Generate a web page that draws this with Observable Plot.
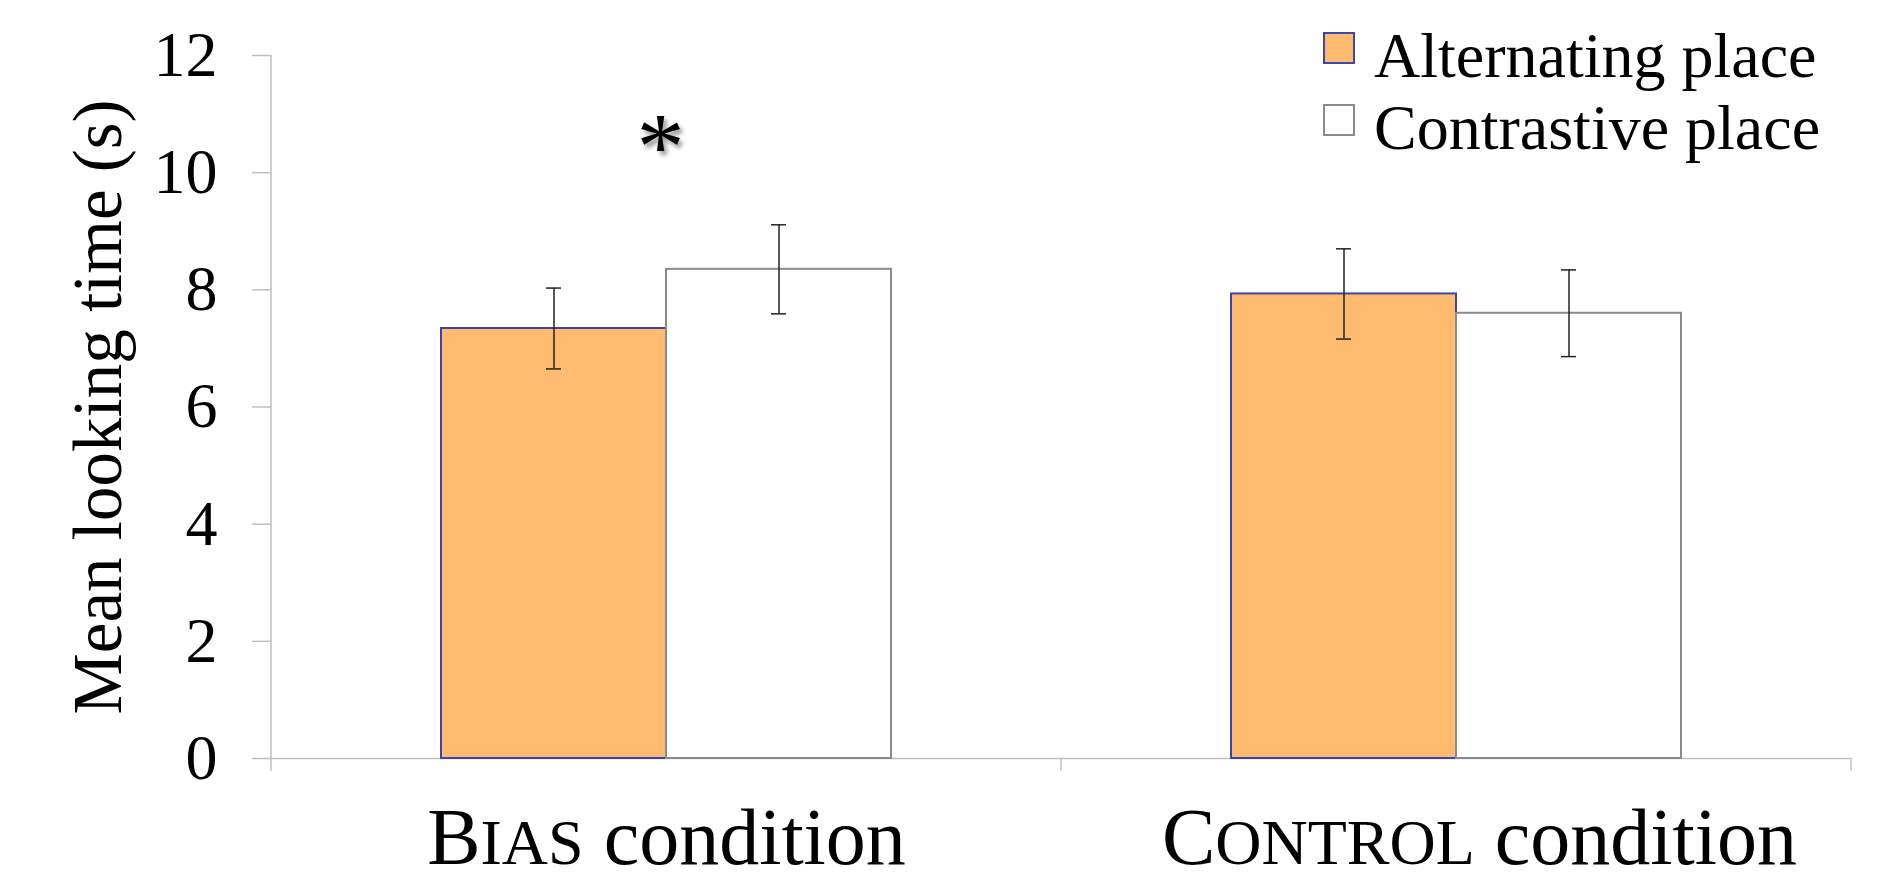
<!DOCTYPE html>
<html><head><meta charset="utf-8">
<script src="https://cdn.jsdelivr.net/npm/d3@7"></script>
<script src="https://cdn.jsdelivr.net/npm/@observablehq/plot@0.6"></script>
<style>
html,body{margin:0;padding:0;background:#fff;}
#wrap{position:relative;width:1890px;height:882px;font-family:"Liberation Serif","Times New Roman",serif;}
.legend{position:absolute;left:1323px;top:24px;}
.row{position:relative;height:72px;}
.sw{position:absolute;left:0;top:8px;width:28px;height:28px;border:2px solid;}
.lab{position:absolute;left:51px;top:0;font-size:64px;line-height:63px;white-space:nowrap;color:#000;}
</style></head><body><div id="wrap"></div>
<script>
const groups = ["Bias", "Control"];
const groupSuffix = "condition";
const seriesNames = ["Alternating place", "Contrastive place"];
const altMeans = [7.34, 7.93];
const altErrors = [0.69, 0.77];
const conMeans = [8.35, 7.60];
const conErrors = [0.76, 0.74];
const seriesFills = ["#FEBA6F", "#FFFFFF"];
const seriesStrokes = ["#3A46A8", "#8A8A8A"];
const yTicks = [0, 2, 4, 6, 8, 10, 12];
const yLabel = "Mean looking time (s)";
const sigGroups = ["Bias"];
const sigLevels = [10.42];
const sigMarks = ["*"];

const axisGray = "#BFBFBF";
const errColor = "#222222";
const labelShift = [0, 23];

const rows = groups.flatMap((g, i) => [
  {group: g, series: seriesNames[0], mean: altMeans[i], err: altErrors[i]},
  {group: g, series: seriesNames[1], mean: conMeans[i], err: conErrors[i]}
]);
const fillOf = s => seriesFills[seriesNames.indexOf(s)];
const strokeOf = s => seriesStrokes[seriesNames.indexOf(s)];
const sig = sigGroups.map((g, i) => ({group: g, y: sigLevels[i], text: sigMarks[i]}));

const chart = Plot.plot({
  width: 1890, height: 882,
  marginLeft: 271, marginRight: 39, marginTop: 55, marginBottom: 124,
  style: {fontFamily: '"Liberation Serif", "Times New Roman", serif', background: "white", color: "black"},
  fx: {domain: groups, padding: 0},
  x: {domain: seriesNames, paddingInner: 0, paddingOuter: 0.752, axis: null},
  y: {domain: [0, d3.max(yTicks)]},
  marks: [
    Plot.ruleY([0], {stroke: axisGray, strokeWidth: 1.5}),
    Plot.axisY({ticks: yTicks, tickSize: 19, tickPadding: 35, fontSize: 64, stroke: axisGray, strokeWidth: 1.5, fill: "black",
      label: yLabel, labelAnchor: "center", labelArrow: "none", labelOffset: 200, tickFormat: d => String(d)}),
    Plot.axisFx({anchor: "bottom", tickSize: 0, tickPadding: 49, fontSize: 80, fill: "black", label: null,
      tickFormat: g => g.toUpperCase() + " " + groupSuffix}),
    Plot.barY(rows, {fx: "group", x: "series", y: "mean", fill: d => fillOf(d.series), stroke: d => strokeOf(d.series), strokeWidth: 2}),
    Plot.ruleX(rows, {fx: "group", x: "series", y1: d => d.mean - d.err, y2: d => d.mean + d.err, stroke: errColor, strokeWidth: 1.5}),
    Plot.tickY(rows, {fx: "group", x: "series", y: d => d.mean + d.err, insetLeft: 105, insetRight: 105, stroke: errColor, strokeWidth: 1.5}),
    Plot.tickY(rows, {fx: "group", x: "series", y: d => d.mean - d.err, insetLeft: 105, insetRight: 105, stroke: errColor, strokeWidth: 1.5}),
    Plot.text(sig, {fx: "group", y: "y", text: "text", fontSize: 96, fill: "black", dx: -6})
  ]
});

document.getElementById("wrap").appendChild(chart);

// axis line and category boundary ticks, from the scales
const fxs = chart.scale("fx"), ys = chart.scale("y");
const svg = d3.select(chart);
const gL = svg.append("g").attr("stroke", axisGray).attr("stroke-width", 1.5);
const left = fxs.apply(groups[0]);
const y0 = ys.apply(0);
gL.append("line").attr("x1", left).attr("x2", left).attr("y1", ys.apply(d3.max(yTicks))).attr("y2", y0 + 13);
groups.forEach(g => {
  const xe = fxs.apply(g) + fxs.bandwidth;
  gL.append("line").attr("x1", xe).attr("x2", xe).attr("y1", y0).attr("y2", y0 + 13);
});

// small caps for category labels
svg.selectAll('g[aria-label="fx-axis tick label"] text').each(function(d, i) {
  const up = groups[i].toUpperCase();
  const t = d3.select(this);
  t.text(null);
  t.attr("dx", labelShift[i]);
  t.append("tspan").text(up[0]);
  t.append("tspan").attr("font-size", "0.8em").text(up.slice(1));
  t.append("tspan").text(" " + groupSuffix);
});
svg.selectAll('g[aria-label="y-axis label"] text').attr("font-size", 69);
svg.selectAll('g[aria-label="text"] text').style("filter", "drop-shadow(3px 4px 2px rgba(0,0,0,0.4))");

// legend
const leg = d3.select("#wrap").append("div").attr("class", "legend");
seriesNames.forEach((s, i) => {
  const r = leg.append("div").attr("class", "row");
  r.append("div").attr("class", "sw").style("background", seriesFills[i]).style("border-color", seriesStrokes[i]);
  r.append("div").attr("class", "lab").text(s);
});
</script></body></html>
